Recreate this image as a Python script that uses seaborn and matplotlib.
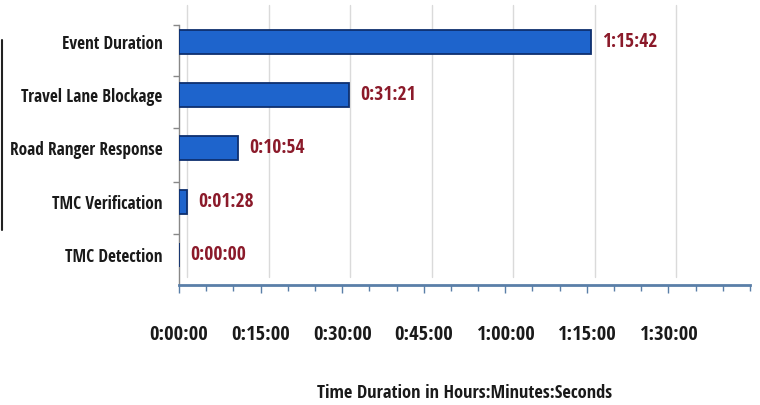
import matplotlib
matplotlib.use("Agg")
import matplotlib.pyplot as plt
import matplotlib.transforms as mtransforms
from matplotlib import font_manager as fm
from matplotlib.font_manager import FontProperties
from matplotlib.lines import Line2D
from matplotlib.ticker import FuncFormatter, FixedLocator
import seaborn as sns
import pandas as pd

categories = ["Event Duration", "Travel Lane Blockage", "Road Ranger Response",
              "TMC Verification", "TMC Detection"]
durations_sec = [4542, 1881, 654, 88, 0]
x_tick_seconds = [0, 900, 1800, 2700, 3600, 4500, 5400]
x_minor_seconds = list(range(0, 6301, 300))
x_label = "Time Duration in Hours:Minutes:Seconds"


def hms(s, pos=None):
    s = int(round(s))
    return f"{s // 3600}:{(s % 3600) // 60:02d}:{s % 60:02d}"


sns.set_theme(style="white")

# pick an installed condensed font
avail = {}
for f in fm.fontManager.ttflist:
    avail.setdefault(f.name, set()).add(str(f.stretch))
prefs = [("Fira Sans Extra Condensed", "normal"), ("PT Sans Narrow", "normal"),
         ("Open Sans Condensed", None), ("Fira Sans Condensed", "normal"),
         ("Roboto Condensed", None), ("Barlow Condensed", None),
         ("Asap Condensed", None), ("Encode Sans Condensed", None),
         ("IBM Plex Sans Condensed", None), ("Open Sans", "condensed")]
FONT, STRETCH = "DejaVu Sans", "normal"
for name, st in prefs:
    if name in avail and (st is None or st in avail[name]):
        FONT, STRETCH = name, (st or "normal")
        break
plt.rcParams["font.family"] = [FONT, "DejaVu Sans"]

fig = plt.figure(figsize=(7.6, 4.05), dpi=100, facecolor="white")
renderer = fig.canvas.get_renderer()


def fp_for(text, target_px):
    fp = FontProperties(family=[FONT, "DejaVu Sans"], stretch=STRETCH,
                        weight="bold", size=10)
    t = fig.text(0, 0, text, fontproperties=fp)
    w = t.get_window_extent(renderer).width
    t.remove()
    fp.set_size(10 * target_px / w)
    return fp


fp_tick = fp_for("0:00:00", 58)
fp_val = fp_for("1:15:42", 56)
fp_cat = fp_for("Travel Lane Blockage", 140)
fp_xlab = fp_for(x_label, 296)

ax = fig.add_axes([179 / 760, 1 - 285 / 405, (750 - 179) / 760, (285 - 13) / 405])
ax.set_facecolor("none")

df = pd.DataFrame({"category": categories, "duration": durations_sec})
sns.barplot(data=df, y="category", x="duration", orient="h", color="#1e64cc",
            saturation=1, edgecolor="#0e2f6e", linewidth=1.3, width=0.45, ax=ax,
            zorder=3)

# gridlines (offset like the 3D back wall)
offset = mtransforms.ScaledTranslation(8 / 100, 8 / 100, fig.dpi_scale_trans)
for t in x_tick_seconds:
    ax.plot([t, t], [0, 1], transform=ax.get_xaxis_transform() + offset,
            color="#dadada", lw=1, clip_on=False, zorder=0)
ax.set_xlim(0, 6300)
ax.set_ylim(4.568, -0.545)

# value labels
for i, v in enumerate(durations_sec):
    ax.annotate(hms(v), xy=(v, i), xytext=(8, 0), textcoords="offset points",
                ha="left", va="center", color="#8b1a2a", fontproperties=fp_val,
                zorder=5)

ax.xaxis.set_major_locator(FixedLocator(x_tick_seconds))
ax.xaxis.set_minor_locator(FixedLocator(x_minor_seconds))
ax.xaxis.set_major_formatter(FuncFormatter(hms))
ax.tick_params(axis="x", which="major", direction="out", length=6, width=1,
               color="#5a7fa8", pad=23, labelcolor="#1a1a1a", bottom=True)
ax.tick_params(axis="x", which="minor", direction="out", length=4, width=1,
               color="#5a7fa8", bottom=True)
for lab in ax.get_xticklabels():
    lab.set_fontproperties(fp_tick)

ax.yaxis.set_minor_locator(FixedLocator([-0.32, 0.63, 1.62, 2.63, 3.61]))
ax.tick_params(axis="y", which="major", length=0, pad=12,
               labelcolor="#1a1a1a", left=False)
ax.tick_params(axis="y", which="minor", direction="out", length=4, width=1,
               color="#888888", left=True)
for lab in ax.get_yticklabels():
    lab.set_fontproperties(fp_cat)

ax.set_ylabel("")
ax.set_xlabel(x_label, fontproperties=fp_xlab, color="#1a1a1a", labelpad=28)

for s in ["top", "right"]:
    ax.spines[s].set_visible(False)
ax.spines["left"].set_color("#888888")
ax.spines["left"].set_linewidth(1)
ax.spines["left"].set_bounds(4.568, -0.32)
ax.spines["bottom"].set_color("#5a7fa8")
ax.spines["bottom"].set_linewidth(2)

# scan edge line at far left
fig.add_artist(Line2D([1.5 / 760, 1.5 / 760], [1 - 230 / 405, 1 - 40 / 405],
                      color="#222222", lw=1.5))

fig.savefig("out.png", dpi=100, facecolor="white")
